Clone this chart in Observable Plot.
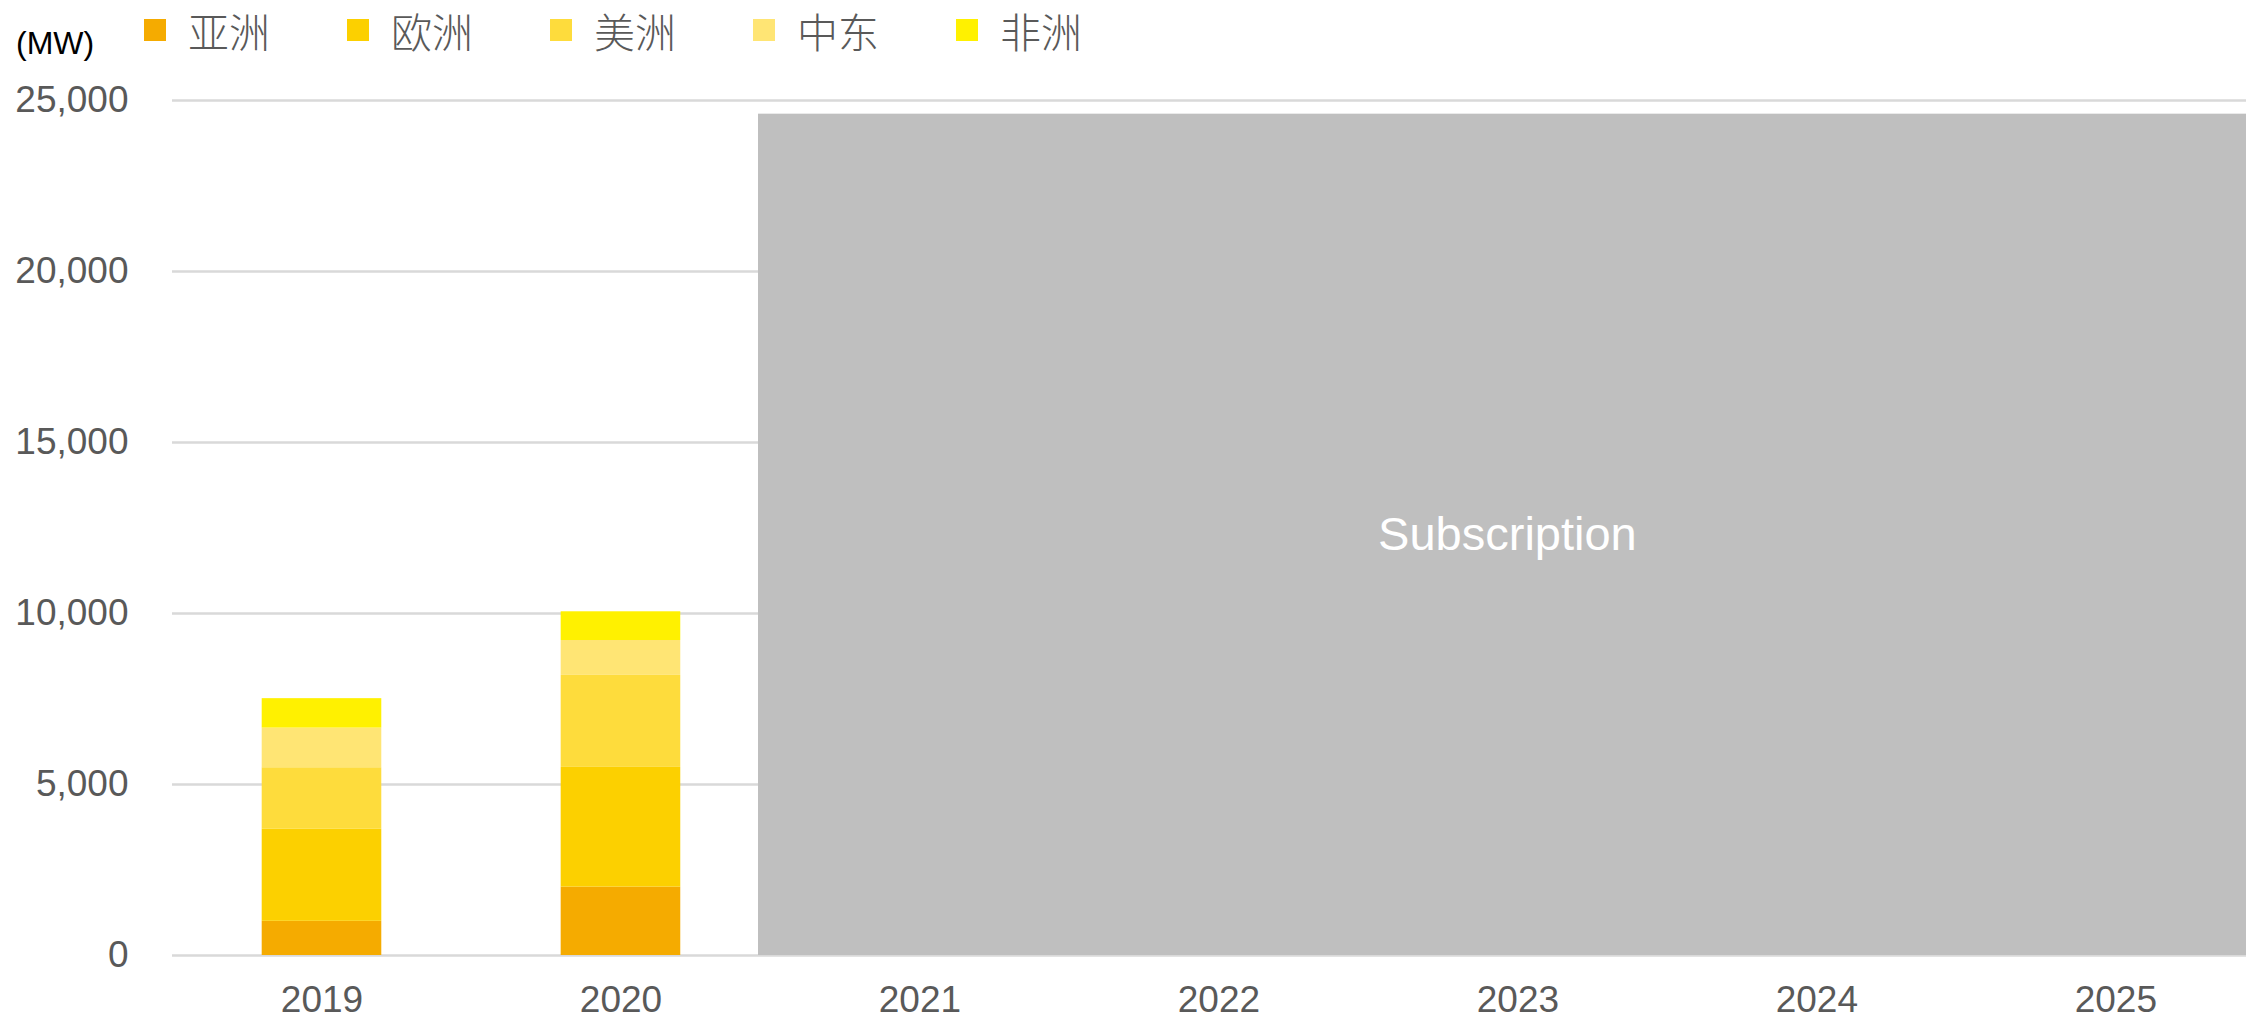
<!DOCTYPE html>
<html>
<head>
<meta charset="utf-8">
<script src="https://cdn.jsdelivr.net/npm/d3@7"></script>
<script src="https://cdn.jsdelivr.net/npm/@observablehq/plot@0.6"></script>
<style>
  html, body { margin: 0; padding: 0; background: #ffffff; }
  #legend { position: relative; width: 2246px; height: 60px; font-family: "Liberation Sans", Arial, sans-serif; }
  #unit { position: absolute; left: 16px; top: 26px; font-size: 32px; line-height: 34px; color: #000000; }
  .item { position: absolute; top: 8px; height: 44px; display: flex; align-items: center; }
  .swatch { width: 22px; height: 22px; margin-right: 22px; }
  .lbl { font-family: "Noto Sans CJK SC", "Noto Sans", sans-serif; font-weight: 300; font-size: 41px; line-height: 44px; color: #595959; }
</style>
</head>
<body>
<div id="legend"></div>
<div id="chart"></div>
<script>
// ---- data ----
const years = [2019, 2020];
const regions = ["亚洲", "欧洲", "美洲", "中东", "非洲"];
const asia = [1000, 2000];
const europe = [2690, 3500];
const americas = [1800, 2690];
const middleEast = [1160, 1020];
const africa = [860, 840];
const regionColors = ["#F5AB00", "#FCD000", "#FEDC3C", "#FFE574", "#FFF100"];
const xTickLabels = [2019, 2020, 2021, 2022, 2023, 2024, 2025];
const yTickValues = [0, 5000, 10000, 15000, 20000, 25000];
const subscriptionSpan = [2020.46, 2025.47];
const subscriptionTop = 24600;
const subscriptionLabel = "Subscription";
const unitLabel = "(MW)";

// ---- build stacked table ----
const seriesValues = [asia, europe, americas, middleEast, africa];
const table = [];
years.forEach((yr, i) => {
  let base = 0;
  regions.forEach((r, j) => {
    const v = seriesValues[j][i];
    table.push({year: yr, region: r, y1: base, y2: base + v});
    base += v;
  });
});
const subscription = [{x1: subscriptionSpan[0], x2: subscriptionSpan[1], y1: 0, y2: subscriptionTop, label: subscriptionLabel}];

// ---- legend ----
const legend = document.getElementById("legend");
const unit = document.createElement("div");
unit.id = "unit";
unit.textContent = unitLabel;
legend.appendChild(unit);
regions.forEach((r, i) => {
  const item = document.createElement("div");
  item.className = "item";
  item.style.left = (144 + i * 203) + "px";
  const sw = document.createElement("div");
  sw.className = "swatch";
  sw.style.background = regionColors[i];
  const lb = document.createElement("span");
  lb.className = "lbl";
  lb.textContent = r;
  item.appendChild(sw);
  item.appendChild(lb);
  legend.appendChild(item);
});

// ---- chart ----
const half = 0.2;
const chart = Plot.plot({
  width: 2246,
  height: 959,
  marginLeft: 172,
  marginRight: 0,
  marginTop: 40,
  marginBottom: 64,
  style: {fontFamily: "'Liberation Sans', Arial, sans-serif", fontSize: "37px", color: "#595959", background: "#ffffff"},
  x: {type: "linear", domain: [2018.5, 2025.437]},
  y: {domain: [0, 25000]},
  color: {domain: regions, range: regionColors},
  marks: [
    Plot.ruleY(yTickValues, {stroke: "#d9d9d9", strokeWidth: 2.5}),
    Plot.rect(table, {x1: d => d.year - half, x2: d => d.year + half, y1: "y1", y2: "y2", fill: "region"}),
    Plot.rect(subscription, {x1: "x1", x2: "x2", y1: "y1", y2: "y2", fill: "#bfbfbf"}),
    Plot.text(subscription, {x: d => (d.x1 + d.x2) / 2, y: d => (d.y1 + d.y2) / 2, text: "label", fill: "#ffffff", fontSize: 47}),
    Plot.axisX(xTickLabels, {tickSize: 0, tickPadding: 30, tickFormat: d => String(d), label: null}),
    Plot.axisY(yTickValues, {tickSize: 0, tickPadding: 44, tickFormat: d3.format(","), label: null})
  ]
});
document.getElementById("chart").appendChild(chart);
</script>
</body>
</html>
